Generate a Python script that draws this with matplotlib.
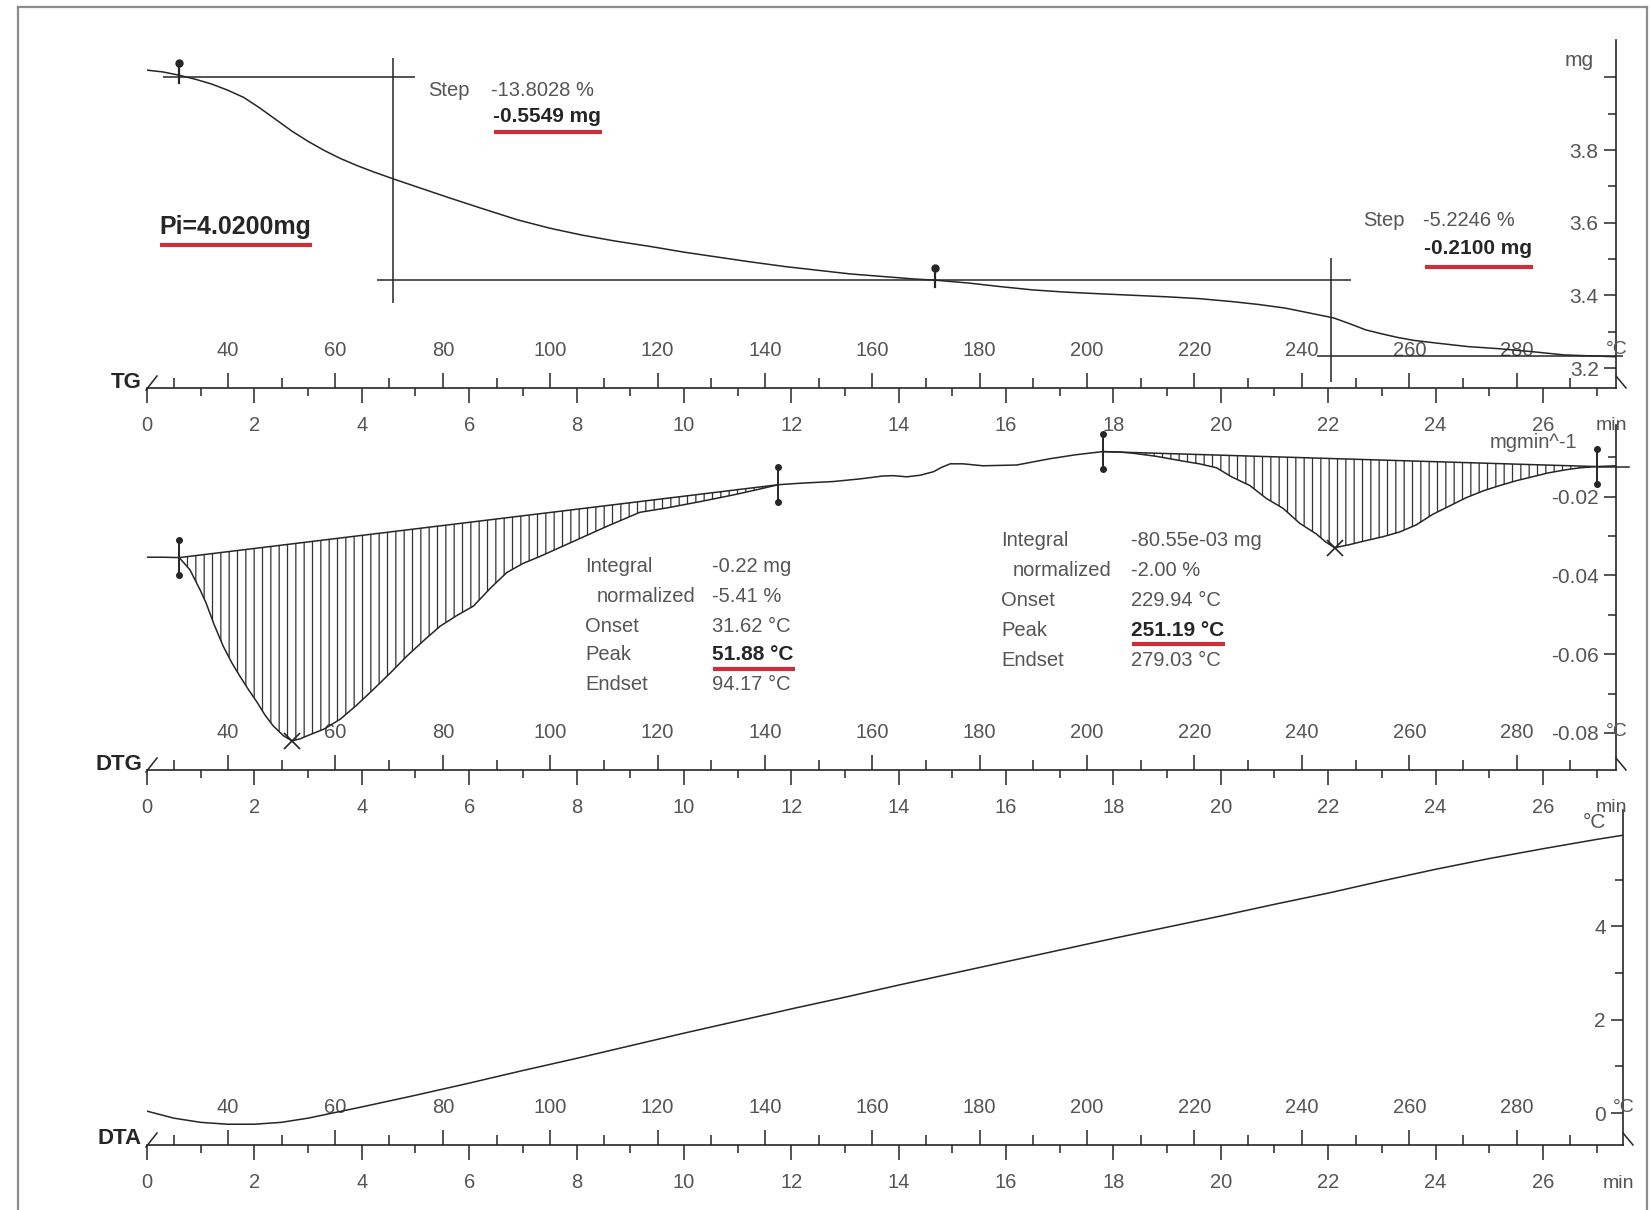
import numpy as np
import matplotlib
matplotlib.use("Agg")
import matplotlib.pyplot as plt
from matplotlib.lines import Line2D
from matplotlib.ticker import FixedLocator, FixedFormatter

plt.rcParams['font.family'] = ['Liberation Sans', 'DejaVu Sans']
plt.rcParams['hatch.linewidth'] = 0.9
plt.rcParams['hatch.color'] = '#333333'

# heating program (10 K/min)
T_START = 24.9
RATE = 10.0

# TG curve, mg
tg_time = [0.00, 0.30, 0.60, 0.90, 1.20, 1.50, 1.80, 2.10, 2.40, 2.70, 3.00, 3.30,
           3.60, 3.90, 4.20, 4.60, 5.00, 5.60, 6.20, 6.90, 7.50, 8.10, 8.70, 9.40,
           10.00, 10.60, 11.20, 11.90, 12.50, 13.10, 13.70, 14.30, 14.67, 15.30,
           15.90, 16.50, 17.10, 17.80, 18.40, 19.00, 19.60, 20.20, 20.70, 21.20,
           21.60, 22.10, 22.40, 22.70, 23.00, 23.30, 23.60, 24.00, 24.60, 25.20,
           25.80, 26.40, 27.36]
tg_mass = [4.020, 4.015, 4.006, 3.995, 3.982, 3.965, 3.945, 3.916, 3.884, 3.852, 3.824, 3.799,
           3.777, 3.758, 3.741, 3.720, 3.700, 3.670, 3.641, 3.608, 3.585, 3.566, 3.550, 3.534,
           3.519, 3.506, 3.493, 3.479, 3.469, 3.459, 3.452, 3.445, 3.442, 3.434,
           3.424, 3.415, 3.409, 3.404, 3.400, 3.396, 3.391, 3.383, 3.375, 3.365,
           3.353, 3.338, 3.322, 3.305, 3.294, 3.284, 3.276, 3.269, 3.259, 3.253,
           3.245, 3.236, 3.231]

# DTG curve, mg/min
dtg_time = [0.00, 0.30, 0.60, 0.80, 1.00, 1.10, 1.25, 1.42, 1.58, 1.73, 1.90, 2.05,
            2.20, 2.35, 2.55, 2.70, 2.85, 2.97, 3.30, 3.60, 3.90, 4.22, 4.53, 4.84,
            5.15, 5.46, 5.77, 6.08, 6.40, 6.70, 7.00, 7.32, 7.63, 7.94, 8.25, 8.56,
            8.87, 9.18, 9.68, 10.30, 10.92, 11.35, 11.76, 12.20, 12.78, 13.30, 13.70,
            13.90, 14.15, 14.40, 14.65, 14.80, 14.96, 15.20, 15.57, 16.20, 16.82,
            17.30, 17.80, 18.10, 18.36, 18.80, 19.29, 19.60, 19.92, 20.20, 20.54,
            20.85, 21.16, 21.47, 21.78, 21.95, 22.12, 22.40, 22.70, 23.02, 23.33,
            23.64, 23.95, 24.26, 24.57, 24.90, 25.20, 25.50, 25.80, 26.10, 26.43,
            26.70, 27.00, 27.36]
dtg_rate = [-0.0354, -0.0354, -0.0355, -0.0386, -0.0440, -0.0470, -0.0525, -0.0580, -0.0622, -0.0656, -0.0692, -0.0722,
            -0.0755, -0.0782, -0.0808, -0.0820, -0.0815, -0.0808, -0.0790, -0.0765, -0.0730, -0.0689, -0.0648, -0.0605,
            -0.0566, -0.0529, -0.0502, -0.0478, -0.0432, -0.0393, -0.0370, -0.0352, -0.0333, -0.0314, -0.0295, -0.0276,
            -0.0258, -0.0240, -0.0229, -0.0213, -0.0196, -0.0183, -0.0170, -0.0166, -0.0162, -0.0155, -0.0148,
            -0.0147, -0.0150, -0.0146, -0.0137, -0.0126, -0.0117, -0.0117, -0.0122, -0.0120, -0.0104,
            -0.0094, -0.0086, -0.0087, -0.0090, -0.0098, -0.0110, -0.0117, -0.0127, -0.0150, -0.0172,
            -0.0205, -0.0230, -0.0268, -0.0295, -0.0315, -0.0330, -0.0322, -0.0312, -0.0302, -0.0290,
            -0.0272, -0.0245, -0.0224, -0.0203, -0.0185, -0.0172, -0.0160, -0.0150, -0.0140, -0.0132,
            -0.0127, -0.0124, -0.0122]

# DTA curve
dta_time = [0.0, 0.5, 1.0, 1.5, 2.0, 2.5, 3.0, 3.5, 4.0, 5.0, 6.0, 7.0, 8.0, 9.0, 10.0,
            11.0, 11.7, 12.0, 13.0, 14.0, 15.0, 16.0, 17.0, 18.0, 19.0, 20.0, 21.0,
            22.0, 23.0, 24.0, 25.0, 26.0, 27.0, 27.49]
dta_signal = [0.04, -0.11, -0.20, -0.24, -0.24, -0.20, -0.11, 0.01, 0.13, 0.38, 0.64, 0.91, 1.17, 1.44, 1.71,
              1.97, 2.15, 2.23, 2.48, 2.74, 2.99, 3.24, 3.49, 3.74, 3.98, 4.22, 4.47,
              4.71, 4.97, 5.22, 5.45, 5.66, 5.86, 5.95]

time_major = list(range(0, 27, 2))
time_minor = list(range(1, 28, 2))
temp_major = list(range(40, 281, 20))
temp_minor = list(range(30, 291, 20))

tg_yticks = [3.2, 3.4, 3.6, 3.8, 4.0]
tg_ylabels = ['3.2', '3.4', '3.6', '3.8', '']
tg_yminor = [3.3, 3.5, 3.7, 3.9]
dtg_yticks = [-0.02, -0.04, -0.06, -0.08]
dtg_ylabels = ['-0.02', '-0.04', '-0.06', '-0.08']
dtg_yminor = [-0.01, -0.03, -0.05, -0.07]
dta_yticks = [0, 2, 4]
dta_ylabels = ['0', '2', '4']
dta_yminor = [1, 3, 5]

# TG step evaluation
step_levels = [4.000, 3.442, 3.232]
step_cuts = [4.58, 22.06]
step_pct = ['-13.8028 %', '-5.2246 %']
step_mass = ['-0.5549 mg', '-0.2100 mg']
initial_mass = 'Pi=4.0200mg'
tg_pins = [0.60, 14.67]

# DTG peak integration
dtg_limits = [(0.60, 11.76), (17.80, 27.00)]
peak_rows = ['Integral', 'normalized', 'Onset', 'Peak', 'Endset']
peak1_values = ['-0.22 mg', '-5.41 %', '31.62 °C', '51.88 °C', '94.17 °C']
peak2_values = ['-80.55e-03 mg', '-2.00 %', '229.94 °C', '251.19 °C', '279.03 °C']

W, H = 1650, 1210
X0 = 147
PX_MIN = 53.69
INK = '#262626'
GREY = '#555555'
RED = '#cc2f3a'


def fx(px):
    return px / W


def fy(py):
    return 1 - py / H


def to_temp(t):
    return T_START + RATE * np.asarray(t, dtype=float)


def to_time(T):
    return (np.asarray(T, dtype=float) - T_START) / RATE


fig = plt.figure(figsize=(W / 100, H / 100), dpi=100)


def panel(top, bottom, right, ylim, yticks, ylabels, yminor, name):
    ax = fig.add_axes([fx(X0), fy(bottom), (right - X0) / W, (bottom - top) / H])
    ax.set_xlim(0, (right - X0) / PX_MIN)
    ax.set_ylim(*ylim)
    ax.patch.set_visible(False)
    ax.spines[['top', 'right']].set_visible(False)
    ax.spines['left'].set_position(('axes', 1.0))
    for s in ('left', 'bottom'):
        ax.spines[s].set_linewidth(1.2)
        ax.spines[s].set_color(INK)
    ax.xaxis.set_major_locator(FixedLocator(time_major))
    ax.xaxis.set_minor_locator(FixedLocator(time_minor))
    ax.yaxis.set_major_locator(FixedLocator(yticks))
    ax.yaxis.set_major_formatter(FixedFormatter(ylabels))
    ax.yaxis.set_minor_locator(FixedLocator(yminor))
    ax.tick_params(axis='x', which='major', length=11, width=1.1, pad=9,
                   labelsize=14.5, labelcolor=GREY, color=INK)
    ax.tick_params(axis='x', which='minor', length=6, width=1.1, color=INK)
    ax.tick_params(axis='y', which='major', length=8.5, width=1.1, pad=4,
                   labelsize=15, labelcolor=GREY, color=INK)
    ax.tick_params(axis='y', which='minor', length=5.5, width=1.1, color=INK)

    # temperature scale on the upper side of the time axis
    sec = ax.secondary_xaxis(0, functions=(to_temp, to_time))
    sec.set_alignment('top')
    sec.spines[['top', 'bottom']].set_visible(False)
    sec.xaxis.set_major_locator(FixedLocator(temp_major))
    sec.xaxis.set_minor_locator(FixedLocator(temp_minor))
    sec.tick_params(axis='x', which='major', length=11, width=1.1, pad=9,
                    labelsize=14.5, labelcolor=GREY, color=INK)
    sec.tick_params(axis='x', which='minor', length=7, width=1.1, color=INK)

    fig.text(fx(142), fy(bottom - 6), name, ha='right', va='center',
             fontsize=16, fontweight='bold', color=INK)
    fig.add_artist(Line2D([fx(X0 - 1), fx(X0 + 10)], [fy(bottom + 2), fy(bottom - 12)],
                          color=INK, lw=1.1))
    fig.add_artist(Line2D([fx(right), fx(right + 10)], [fy(bottom - 12), fy(bottom)],
                          color=INK, lw=1.1))
    fig.text(fx(right - 5), fy(bottom + 38), 'min', ha='center', va='center',
             fontsize=14, color=GREY)
    fig.text(fx(right + 1), fy(bottom - 38), '°C', ha='center', va='center',
             fontsize=14, color=GREY)
    return ax


# ---- TG ----
ax_tg = panel(40, 388, 1616, (3.145, 4.103), tg_yticks, tg_ylabels, tg_yminor, 'TG')
ax_tg.plot(tg_time, tg_mass, color=INK, lw=1.1)
line_kw = dict(color=INK, lw=1.1)
ax_tg.hlines(step_levels[0], 0.30, 5.00, **line_kw)
ax_tg.vlines(step_cuts[0], 3.379, 4.053, **line_kw)
ax_tg.hlines(step_levels[1], 4.28, 22.43, **line_kw)
ax_tg.vlines(step_cuts[1], 3.162, 3.503, **line_kw)
ax_tg.hlines(step_levels[2], 21.80, 27.50, clip_on=False, **line_kw)
for t in tg_pins:
    m = np.interp(t, tg_time, tg_mass)
    ax_tg.plot([t, t], [m - 0.02, m + 0.033], color=INK, lw=1.6)
    ax_tg.plot([t], [m + 0.033], marker='o', ms=5, color=INK)
fig.text(fx(159), fy(227), initial_mass, ha='left', va='center',
         fontsize=18, fontweight='bold', color=INK)

# ---- DTG ----
ax_dtg = panel(425, 770, 1616, (-0.0894, -0.00185), dtg_yticks, dtg_ylabels, dtg_yminor, 'DTG')
ax_dtg.plot(dtg_time, dtg_rate, color=INK, lw=1.1)
t_arr = np.array(dtg_time)
v_arr = np.array(dtg_rate)
for i, (a, b) in enumerate(dtg_limits):
    va, vb = np.interp([a, b], t_arr, v_arr)
    sel = (t_arr >= a) & (t_arr <= b)
    ts = t_arr[sel]
    vs = v_arr[sel]
    base = np.interp(ts, [a, b], [va, vb])
    ax_dtg.fill_between(ts, base, vs, facecolor='none', edgecolor='#333333',
                        hatch='||', lw=0)
    ax_dtg.plot([a, b], [va, vb], color=INK, lw=1.1)
    if i == 1:
        ax_dtg.plot([b, b + 0.6], [vb, vb], color=INK, lw=1.1, clip_on=False)
    for t, v in ((a, va), (b, vb)):
        ax_dtg.plot([t, t], [v - 0.0044, v + 0.0044], color=INK, lw=1.4)
        ax_dtg.plot([t, t], [v - 0.0044, v + 0.0044], ls='none', marker='o', ms=4, color=INK)
    k = np.argmin(vs)
    ax_dtg.plot(ts[k], vs[k], marker='x', ms=12, mew=1.2, color=INK)

# ---- DTA ----
ax_dta = panel(810, 1145, 1623, (-0.685, 6.49), dta_yticks, dta_ylabels, dta_yminor, 'DTA')
ax_dta.plot(dta_time, dta_signal, color=INK, lw=1.1)

# axis units
fig.text(fx(1565), fy(60), 'mg', ha='left', va='center', fontsize=15, color=GREY)
fig.text(fx(1490), fy(443), 'mgmin^-1', ha='left', va='center', fontsize=14.5, color=GREY)
fig.text(fx(1583), fy(822), '°C', ha='left', va='center', fontsize=15, color=GREY)

# step annotations
underlined = []
fig.text(fx(428), fy(90), 'Step', ha='left', va='center', fontsize=14.5, color=GREY)
fig.text(fx(491), fy(90), step_pct[0], ha='left', va='center', fontsize=14.5, color=GREY)
t1 = fig.text(fx(493), fy(117), step_mass[0], ha='left', va='center',
              fontsize=15, fontweight='bold', color=INK)
fig.text(fx(1363), fy(220), 'Step', ha='left', va='center', fontsize=14.5, color=GREY)
fig.text(fx(1423), fy(220), step_pct[1], ha='left', va='center', fontsize=14.5, color=GREY)
t2 = fig.text(fx(1424), fy(249), step_mass[1], ha='left', va='center',
              fontsize=15, fontweight='bold', color=INK)
underlined += [(t1, 132), (t2, 267)]

# peak tables
blocks = [(585, 712, [566, 596, 626, 655, 685], peak1_values),
          (1001, 1131, [541, 570, 600, 630, 661], peak2_values)]
for lx, vx, rows, values in blocks:
    for label, value, y in zip(peak_rows, values, rows):
        indent = 12 if label == 'normalized' else 0
        fig.text(fx(lx + indent), fy(y), label, ha='left', va='center',
                 fontsize=14.5, color=GREY)
        if label == 'Peak':
            tv = fig.text(fx(vx), fy(y), value, ha='left', va='center',
                          fontsize=15, fontweight='bold', color=INK)
            underlined.append((tv, y + 14))
        else:
            fig.text(fx(vx), fy(y), value, ha='left', va='center',
                     fontsize=14.5, color=GREY)

# red underlines below the key results
fig.canvas.draw()
renderer = fig.canvas.get_renderer()
pi_text = [t for t in fig.texts if t.get_text() == initial_mass][0]
underlined.append((pi_text, 245))
for txt, y in underlined:
    bb = txt.get_window_extent(renderer)
    fig.add_artist(Line2D([fx(bb.x0 + 1), fx(bb.x1 + 1)], [fy(y), fy(y)],
                          color=RED, lw=3, solid_capstyle='butt'))

# page frame
frame_kw = dict(color='#8c8c8c', lw=1.6)
fig.add_artist(Line2D([fx(18), fx(18)], [fy(1210), fy(7)], **frame_kw))
fig.add_artist(Line2D([fx(18), fx(1647)], [fy(7), fy(7)], **frame_kw))
fig.add_artist(Line2D([fx(1647), fx(1647)], [fy(7), fy(1210)], **frame_kw))

fig.savefig('out.png', dpi=100)
